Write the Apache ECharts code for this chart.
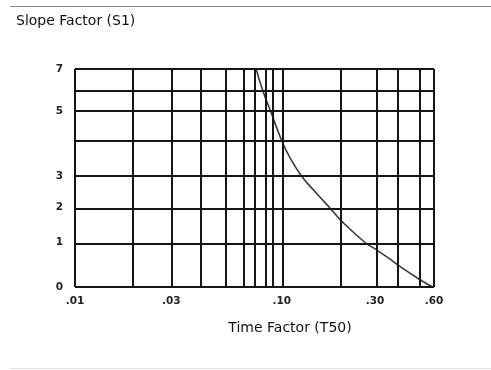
<!DOCTYPE html>
<html><head><meta charset="utf-8">
<script src="https://cdn.jsdelivr.net/npm/echarts@6/dist/echarts.min.js"></script>
<style>html,body{margin:0;padding:0;background:#fff}#c{width:491px;height:370px}</style>
</head><body><div id="c"></div>
<script>
// Curve: Time Factor (T50) vs Slope Factor (S1)
const timeFactor  = [0.0703, 0.0777, 0.0869, 0.100, 0.109, 0.126, 0.149, 0.173, 0.200, 0.266, 0.300, 0.358, 0.400, 0.500, 0.590];
const slopeFactor = [7.0,    6.0,    5.0,    4.0,   3.56,  3.0,   2.46,  2.0,   1.60,  1.0,   0.86,  0.63,  0.47,  0.17,  0.0];

const xTickValues = [0.01, 0.03, 0.10, 0.30, 0.60];
const xTickLabels = ['.01', '.03', '.10', '.30', '.60'];
const yTickValues = [0, 1, 2, 3, 5, 7];
const yTickLabels = ['0', '1', '2', '3', '5', '7'];

const xGridValues = [0.01,0.02,0.03,0.04,0.05,0.06,0.07,0.08,0.09,0.10,0.2,0.3,0.4,0.5,0.6];
const yGridValues = [0,1,2,3,4,5,6,7];

// printed (hand-drawn) scale of the nomograph, as fraction of axis length
const xScaleFrac = [0,0.161,0.268,0.355,0.420,0.469,0.504,0.528,0.552,0.576,0.744,0.836,0.904,0.960,1];
const yScaleFrac = [0,0.203,0.365,0.507,0.671,0.806,0.902,1];

function warpX(t){
  for (let i=0;i<xGridValues.length-1;i++){
    const a=xGridValues[i], b=xGridValues[i+1];
    if (t<=b || i===xGridValues.length-2){
      const f=Math.log(t/a)/Math.log(b/a);
      return xScaleFrac[i]+f*(xScaleFrac[i+1]-xScaleFrac[i]);
    }
  }
}
function warpY(s){
  for (let i=0;i<yGridValues.length-1;i++){
    const a=yGridValues[i], b=yGridValues[i+1];
    if (s<=b || i===yGridValues.length-2){
      const f=(s-a)/(b-a);
      return yScaleFrac[i]+f*(yScaleFrac[i+1]-yScaleFrac[i]);
    }
  }
}
function nearestLabel(v, vals, labels, warp){
  let best=0, bd=1e9;
  vals.forEach((x,i)=>{const d=Math.abs(warp(x)-v); if(d<bd){bd=d;best=i;}});
  return labels[best];
}

const curve = timeFactor.map((t,i)=>[warpX(t), warpY(slopeFactor[i])]);
const gridStyle = {color:'#151515', width:2, type:'solid'};
const markData = xGridValues.map(v=>({xAxis:warpX(v)})).concat(yGridValues.map(v=>({yAxis:warpY(v)})));

const chart = echarts.init(document.getElementById('c'), null, {renderer:'canvas'});
chart.setOption({
  animation:false,
  backgroundColor:'#fff',
  title:{text:'Slope Factor (S1)', left:11, top:9,
    textStyle:{fontFamily:'DejaVu Sans', fontSize:14, fontWeight:'normal', color:'#111'}},
  grid:{left:75, top:69, width:359, height:218},
  xAxis:{type:'value', min:0, max:1,
    axisLine:{show:false}, axisTick:{show:false}, splitLine:{show:false},
    axisLabel:{customValues:xTickValues.map(warpX), margin:9,
      fontFamily:'DejaVu Sans', fontSize:10.5, fontWeight:'bold', color:'#222',
      formatter:v=>nearestLabel(v,xTickValues,xTickLabels,warpX)}},
  yAxis:{type:'value', min:0, max:1,
    axisLine:{show:false}, axisTick:{show:false}, splitLine:{show:false},
    axisLabel:{customValues:yTickValues.map(warpY), margin:12,
      fontFamily:'DejaVu Sans', fontSize:10.5, fontWeight:'bold', color:'#222',
      formatter:v=>nearestLabel(v,yTickValues,yTickLabels,warpY)}},
  graphic:[
    {type:'line', shape:{x1:10,y1:6.5,x2:491,y2:6.5}, style:{stroke:'#888', lineWidth:1}},
    {type:'line', shape:{x1:10,y1:368.5,x2:491,y2:368.5}, style:{stroke:'#e2e2e2', lineWidth:1}},
    {type:'text', x:290, y:328, style:{text:'Time Factor (T50)', fontFamily:'DejaVu Sans', fontSize:14,
      fill:'#111', textAlign:'center', textVerticalAlign:'middle'}}
  ],
  series:[{
    type:'line', data:curve, smooth:0.5, showSymbol:false, clip:false,
    lineStyle:{color:'#3a3a3a', width:1.6},
    markLine:{silent:true, symbol:['none','none'], label:{show:false},
      lineStyle:gridStyle, emphasis:{disabled:true}, data:markData}
  }]
});
</script></body></html>
